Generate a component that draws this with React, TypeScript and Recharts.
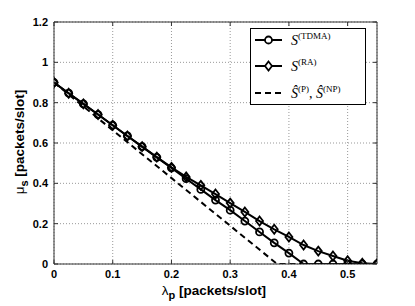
import React from 'react';
import { LineChart, Line, XAxis, YAxis, CartesianGrid } from 'recharts';

const lambdaValues = [0, 0.025, 0.05, 0.075, 0.1, 0.125, 0.15, 0.175, 0.2, 0.225, 0.25, 0.275, 0.3, 0.325, 0.35, 0.375, 0.4, 0.425, 0.45, 0.475, 0.5, 0.525, 0.55];
const tdmaValues = [0.9, 0.847, 0.794, 0.741, 0.688, 0.635, 0.582, 0.529, 0.476, 0.423, 0.37, 0.317, 0.267, 0.213, 0.159, 0.105, 0.054, 0, 0, 0, 0, 0, 0];
const raValues = [0.9, 0.847, 0.794, 0.741, 0.688, 0.635, 0.582, 0.53, 0.479, 0.432, 0.39, 0.347, 0.302, 0.258, 0.213, 0.172, 0.134, 0.094, 0.064, 0.04, 0.016, 0.004, 0];
const boundLambda = [0, 0.38, 0.55];
const boundValues = [0.9, 0, 0];
const xTicks = [0, 0.1, 0.2, 0.3, 0.4, 0.5];
const yTicks = [0, 0.2, 0.4, 0.6, 0.8, 1, 1.2];

const data = lambdaValues.map((l, i) => ({ x: l, tdma: tdmaValues[i], ra: raValues[i] }));
const boundData = boundLambda.map((l, i) => ({ x: l, bound: boundValues[i] }));

const AXIS = '#333';
const TICK_FONT = 'Liberation Sans, Arial, sans-serif';

const BottomTick = (p: any) => (
  <g>
    <line x1={p.x} y1={p.y} x2={p.x} y2={p.y - 4} stroke={AXIS} />
    <text x={p.x} y={p.y + 14} textAnchor="middle" fontFamily={TICK_FONT} fontWeight="bold" fontSize={11} fill="#000">
      {String(p.payload.value)}
    </text>
  </g>
);
const TopTick = (p: any) => <line x1={p.x} y1={p.y} x2={p.x} y2={p.y + 4} stroke={AXIS} />;
const LeftTick = (p: any) => (
  <g>
    <line x1={p.x} y1={p.y} x2={p.x + 4} y2={p.y} stroke={AXIS} />
    <text x={p.x - 6} y={p.y + 4} textAnchor="end" fontFamily={TICK_FONT} fontWeight="bold" fontSize={11} fill="#000">
      {String(p.payload.value)}
    </text>
  </g>
);
const RightTick = (p: any) => <line x1={p.x} y1={p.y} x2={p.x - 4} y2={p.y} stroke={AXIS} />;

const CircleDot = (p: any) => (
  <circle key={`c${p.index}`} cx={p.cx} cy={p.cy} r={3.5} fill="none" stroke="#000" strokeWidth={1.8} />
);
const DiamondDot = (p: any) => (
  <polygon
    key={`d${p.index}`}
    points={`${p.cx},${p.cy - 4.5} ${p.cx + 3.5},${p.cy} ${p.cx},${p.cy + 4.5} ${p.cx - 3.5},${p.cy}`}
    fill="none"
    stroke="#000"
    strokeWidth={1.8}
  />
);

export default function App() {
  return (
    <div style={{ position: 'absolute', left: 0, top: 0, width: 415, height: 306, background: '#fff' }}>
      <LineChart width={415} height={306} margin={{ top: 2, right: 8, bottom: 0, left: 0 }} data={data}>
        <CartesianGrid stroke="#999" strokeDasharray="1 2" xAxisId="b" yAxisId="l" />
        <XAxis
          xAxisId="b"
          dataKey="x"
          type="number"
          domain={[0, 0.55]}
          ticks={xTicks}
          allowDataOverflow
          height={42}
          tickSize={0}
          tickMargin={0}
          tickLine={false}
          axisLine={{ stroke: AXIS }}
          tick={BottomTick}
          interval={0}
        />
        <XAxis
          xAxisId="t"
          orientation="top"
          dataKey="x"
          type="number"
          domain={[0, 0.55]}
          ticks={xTicks}
          allowDataOverflow
          height={20}
          tickSize={0}
          tickMargin={0}
          tickLine={false}
          axisLine={{ stroke: AXIS }}
          tick={TopTick}
          interval={0}
        />
        <YAxis
          yAxisId="l"
          type="number"
          domain={[0, 1.2]}
          ticks={yTicks}
          allowDataOverflow
          width={54}
          tickSize={0}
          tickMargin={0}
          tickLine={false}
          axisLine={{ stroke: AXIS }}
          tick={LeftTick}
          interval={0}
        />
        <YAxis
          yAxisId="r"
          orientation="right"
          type="number"
          domain={[0, 1.2]}
          ticks={yTicks}
          allowDataOverflow
          width={30}
          tickSize={0}
          tickMargin={0}
          tickLine={false}
          axisLine={{ stroke: AXIS }}
          tick={RightTick}
          interval={0}
        />
        <Line
          xAxisId="b"
          yAxisId="l"
          dataKey="tdma"
          stroke="#000"
          strokeWidth={2}
          dot={CircleDot}
          activeDot={false}
          isAnimationActive={false}
        />
        <Line
          xAxisId="b"
          yAxisId="l"
          dataKey="ra"
          stroke="#000"
          strokeWidth={2}
          dot={DiamondDot}
          activeDot={false}
          isAnimationActive={false}
        />
        <Line
          xAxisId="b"
          yAxisId="l"
          data={boundData}
          dataKey="bound"
          stroke="#000"
          strokeWidth={2}
          strokeDasharray="6 4"
          dot={false}
          activeDot={false}
          isAnimationActive={false}
        />
      </LineChart>
      <svg width={415} height={306} style={{ position: 'absolute', left: 0, top: 0, pointerEvents: 'none' }}>
        <text
          transform="translate(24,142) rotate(-90)"
          textAnchor="middle"
          fontFamily={TICK_FONT}
          fontWeight="bold"
          fontSize={13.5}
          fill="#000"
        >
          <tspan fontWeight="normal">μ</tspan>
          <tspan fontSize={11} dy={4}>s</tspan>
          <tspan dy={-4}> [packets/slot]</tspan>
        </text>
        <text x={214} y={295} textAnchor="middle" fontFamily={TICK_FONT} fontWeight="bold" fontSize={13.5} fill="#000">
          <tspan fontWeight="normal">λ</tspan>
          <tspan fontSize={11} dy={4}>p</tspan>
          <tspan dy={-4}> [packets/slot]</tspan>
        </text>
        <g transform="translate(250,28)">
          <rect x={0.5} y={0.5} width={115} height={76} fill="#fff" stroke="#000" strokeWidth={1} />
          <line x1={5} y1={12} x2={32} y2={12} stroke="#000" strokeWidth={2} />
          <circle cx={18.5} cy={12} r={3.5} fill="#fff" stroke="#000" strokeWidth={1.8} />
          <text x={41} y={17} fontFamily="Liberation Serif, DejaVu Serif, serif" fontSize={14} fill="#000">
            <tspan fontStyle="italic">S</tspan>
            <tspan fontSize={9} dy={-6}>(TDMA)</tspan>
          </text>
          <line x1={5} y1={38} x2={32} y2={38} stroke="#000" strokeWidth={2} />
          <polygon points="18.5,33.5 22,38 18.5,42.5 15,38" fill="#fff" stroke="#000" strokeWidth={1.8} />
          <text x={41} y={43} fontFamily="Liberation Serif, DejaVu Serif, serif" fontSize={14} fill="#000">
            <tspan fontStyle="italic">S</tspan>
            <tspan fontSize={9} dy={-6}>(RA)</tspan>
          </text>
          <line x1={5} y1={65} x2={32} y2={65} stroke="#000" strokeWidth={2} strokeDasharray="6 4" />
          <text x={41} y={70} fontFamily="Liberation Serif, DejaVu Serif, serif" fontSize={14} fill="#000">
            <tspan fontStyle="italic">Ŝ</tspan>
            <tspan fontSize={9} dy={-6}>(P)</tspan>
            <tspan dy={6}>, </tspan>
            <tspan fontStyle="italic">Ŝ</tspan>
            <tspan fontSize={9} dy={-6}>(NP)</tspan>
          </text>
        </g>
      </svg>
    </div>
  );
}
